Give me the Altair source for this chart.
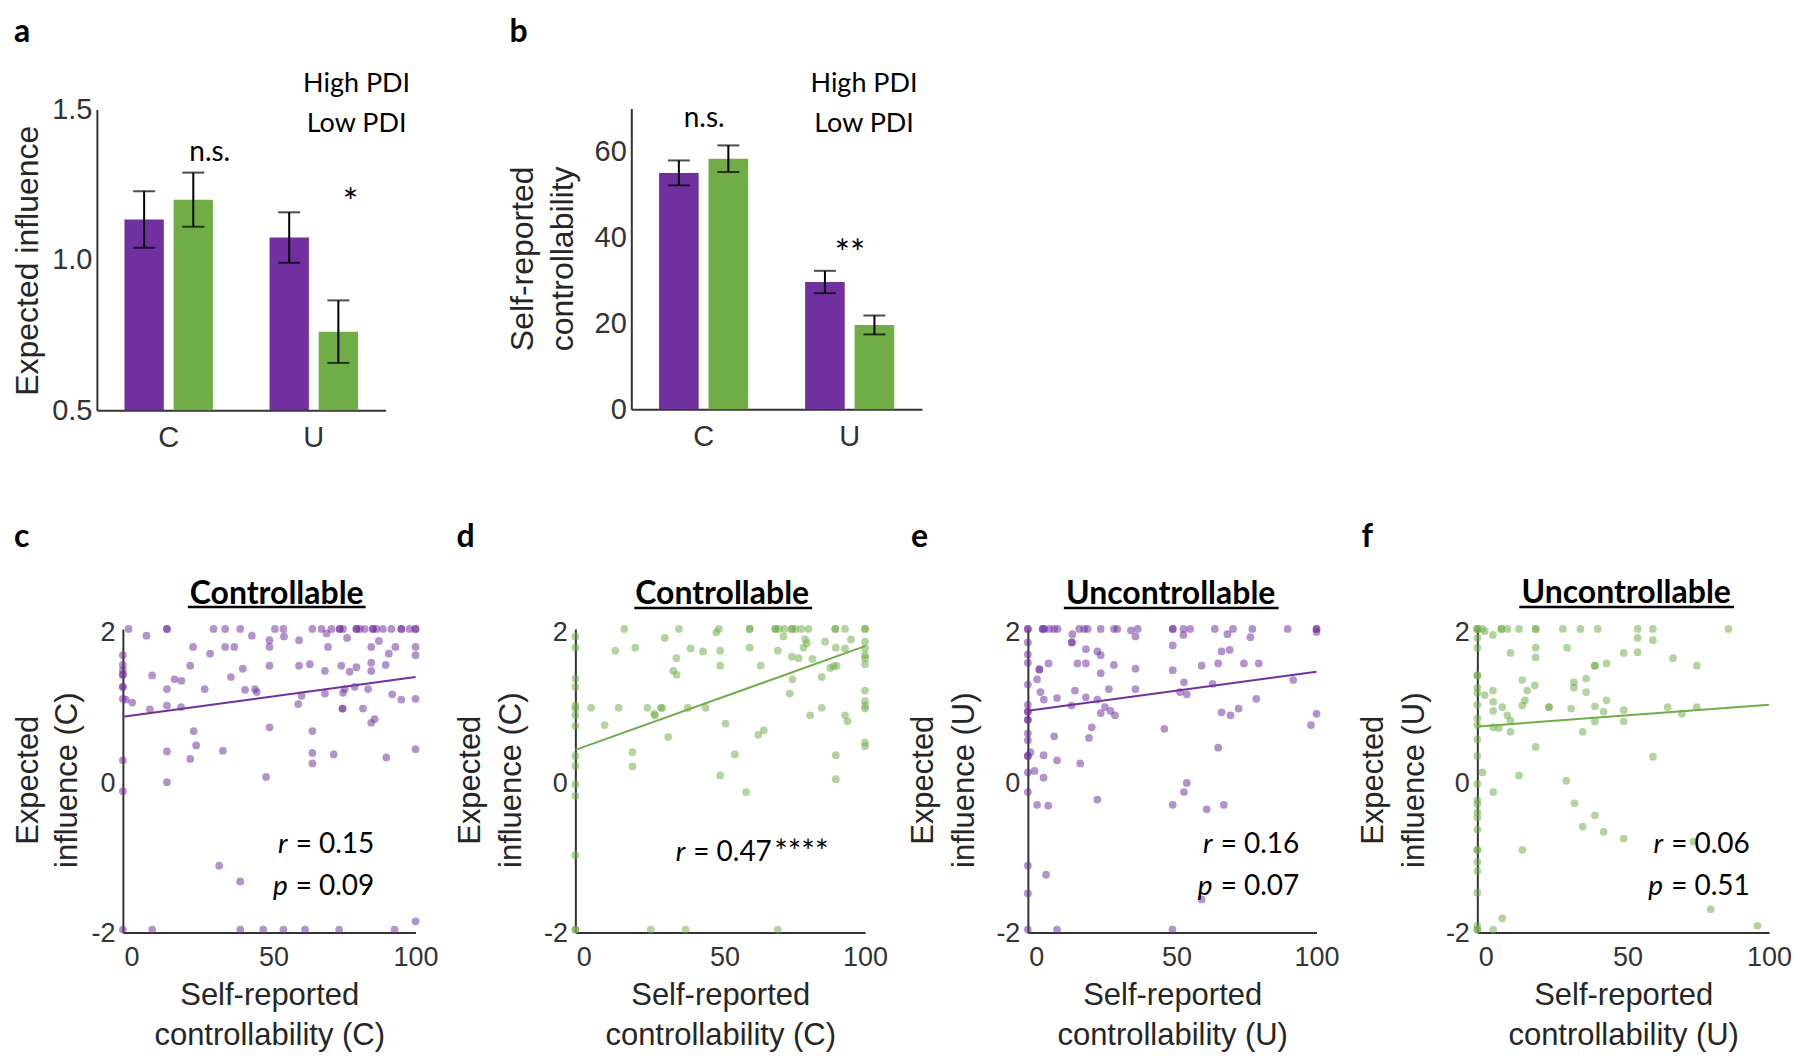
import altair as alt
import pandas as pd

PURPLE = "#7030A0"
GREEN = "#70AD47"
AXIS_FONT = "Liberation Sans"
TEXT_FONT = "Lato"
W, H = 1784, 1045

# ---------------- panels a / b ----------------
conditions = ["C", "C", "U", "U"]
pdi_group = ["High PDI", "Low PDI", "High PDI", "Low PDI"]
influence_mean = [1.134, 1.200, 1.074, 0.761]
influence_sem = [0.094, 0.090, 0.084, 0.104]
control_mean = [55.0, 58.3, 29.6, 19.6]
control_sem = [2.9, 3.1, 2.6, 2.2]

# ---------------- panels c-f (self-reported controllability, expected influence) -------------
c_points = [
    (-1, 2.0), (12.5, 2.0), (12.5, 2.0), (28.9, 2.0), (33.0, 2.0), (38.3, 2.0), (50.5, 2.0), (53.5, 2.0),
    (63.7, 2.0), (66.9, 2.0), (70.4, 2.0), (73.3, 2.0), (73.3, 2.0), (74.5, 2.0), (79.2, 2.0), (79.2, 2.0),
    (80.3, 2.0), (82.1, 2.0), (85.0, 2.0), (85.0, 2.0), (86.2, 2.0), (88.5, 2.0), (91.5, 2.0), (95.0, 2.0),
    (95.0, 2.0), (97.9, 2.0), (100, 2.0), (100, 2.0),
    (5.3, 1.91), (42.4, 1.91), (48.6, 1.85), (53.7, 1.90), (59.0, 1.85), (68.7, 1.94), (75.9, 1.88), (87.1, 1.84),
    (21.7, 1.76), (33.0, 1.76), (36.2, 1.76), (48.6, 1.76), (69.2, 1.76), (84.4, 1.76), (92.9, 1.76), (100, 1.76),
    (-3, 1.65), (27.7, 1.67), (90.6, 1.67), (100, 1.65),
    (-3, 1.52), (20.7, 1.51), (39.2, 1.47), (48.6, 1.51), (59.0, 1.51), (62.8, 1.53), (73.9, 1.51), (79.2, 1.49),
    (84.4, 1.55), (89.5, 1.52), (84.4, 1.44), (76.8, 1.43),
    (-3, 1.39), (-3, 1.39), (7.3, 1.38), (35.0, 1.36), (68.1, 1.44), (15.2, 1.33), (17.6, 1.31),
    (-3, 1.23), (-3, 1.23), (12.5, 1.20), (25.8, 1.20), (40.0, 1.19), (43.5, 1.20), (44.1, 1.16), (59.9, 1.11),
    (68.1, 1.14), (74.5, 1.15), (75.1, 1.20), (78.6, 1.23), (83.3, 1.20), (91.8, 1.13),
    (-2, 1.06), (0.3, 1.02), (6.5, 0.93), (12.5, 0.98), (17.5, 0.96), (58.7, 1.00), (74.3, 0.94), (74.3, 0.94),
    (81.5, 0.94), (95.0, 1.06), (100, 1.07),
    (85.6, 0.80), (84.4, 0.75), (48.6, 0.69), (21.9, 0.64), (63.7, 0.64),
    (22.8, 0.45), (100, 0.40), (12.5, 0.37), (32.2, 0.38), (63.7, 0.35), (71.2, 0.33), (89.7, 0.29), (20.7, 0.27),
    (-3, 0.25), (63.7, 0.21),
    (47.4, 0.03), (12.5, -0.04), (-3, -0.16),
    (30.9, -1.15), (38.3, -1.36),
    (100, -1.89), (-3, -2.0), (7.3, -2.0), (38.3, -2.0), (46.4, -2.0), (53.5, -2.0), (61.1, -2.0), (73.1, -2.0),
    (92.6, -2.0), (-3, 1.07), (-3, 1.45),
]

d_points = [
    (14.4, 2.0), (33.8, 2.0), (48.0, 2.0), (59.0, 2.0), (59.0, 2.0), (68.1, 2.0), (68.1, 2.0), (69.3, 2.0),
    (71.4, 2.0), (74.0, 2.0), (74.0, 2.0), (75.2, 2.0), (77.3, 2.0), (79.9, 2.0), (89.4, 2.0), (89.4, 2.0),
    (92.9, 2.0), (100, 2.0), (100, 2.0),
    (47.1, 1.955), (-3, 1.90), (28.8, 1.88), (71.0, 1.90), (78.7, 1.86), (85.8, 1.83), (95.0, 1.86), (79.3, 1.81),
    (100, 1.83),
    (-3, 1.75), (11.2, 1.71), (18.3, 1.75), (38.0, 1.74), (42.4, 1.70), (48.5, 1.71), (59.0, 1.75), (69.0, 1.71),
    (78.1, 1.75), (89.6, 1.75), (92.9, 1.74), (100, 1.74), (100, 1.65),
    (74.0, 1.63), (76.4, 1.61), (81.3, 1.60), (32.9, 1.61), (48.5, 1.51), (62.9, 1.51), (88.8, 1.50), (87.6, 1.48),
    (89.9, 1.51), (100, 1.53), (100, 1.61),
    (31.8, 1.44), (33.0, 1.39), (84.6, 1.36), (74.2, 1.33), (-3, 1.34), (-3, 1.23), (73.2, 1.14), (100, 1.18),
    (100, 1.04), (100, 0.98), (-3, 0.98), (-3, 0.94), (2.6, 0.95), (12.4, 0.95), (22.6, 0.95), (27.4, 0.95),
    (27.9, 0.95), (37.0, 0.95), (43.3, 0.95), (84.6, 0.95), (100, 0.94),
    (-3, 0.85), (25.0, 0.87), (25.3, 0.85), (80.5, 0.85), (92.9, 0.85), (93.8, 0.77), (7.4, 0.72), (50.4, 0.74),
    (-3, 0.71),
    (64.0, 0.65), (62.0, 0.59), (30.0, 0.56),
    (100, 0.49), (100, 0.44), (17.3, 0.36), (53.7, 0.33), (89.6, 0.32), (-3, 0.31),
    (17.3, 0.17), (48.5, 0.05), (89.6, 0.0), (-3, -0.07), (57.7, -0.17), (-3, -0.22), (-3, 0.18),
    (-3, -1.01),
    (-3, -2.0), (-3, -2.0), (23.8, -2.0), (36.2, -2.0), (69.0, -2.0),
]

e_points = [
    (-3, 2.0), (-3, 2.0), (2.3, 2.0), (2.3, 2.0), (2.9, 2.0), (4.7, 2.0), (6.4, 2.0), (7.6, 2.0), (15.3, 2.0),
    (17.1, 2.0), (18.3, 2.0), (23.0, 2.0), (27.7, 2.0), (28.9, 2.0), (36.2, 2.0), (48.7, 2.0), (48.7, 2.0),
    (52.5, 2.0), (54.9, 2.0), (63.7, 2.0), (70.2, 2.0), (77.1, 2.0), (89.7, 2.0), (100, 2.0), (100, 2.0),
    (33.8, 1.98), (100, 1.96), (12.9, 1.93), (35.4, 1.90), (52.5, 1.92), (68.2, 1.93), (76.4, 1.89), (12.7, 1.82),
    (12.7, 1.82), (-3, 1.82),
    (48.7, 1.78), (17.7, 1.73), (21.8, 1.70), (23.0, 1.65), (66.1, 1.70), (69.0, 1.72), (-3, 1.66), (-3, 1.55),
    (1.1, 1.46), (1.1, 1.46), (4.4, 1.54), (14.7, 1.54), (17.7, 1.54), (27.7, 1.52), (35.4, 1.47), (48.7, 1.45),
    (59.0, 1.51), (64.9, 1.54), (74.1, 1.54), (79.4, 1.54), (23.0, 1.41),
    (0.3, 1.33), (-3, 1.26), (52.7, 1.29), (62.9, 1.27), (91.7, 1.32), (13.8, 1.18), (25.9, 1.20), (35.4, 1.20),
    (1.5, 1.16), (51.3, 1.16), (53.7, 1.13),
    (2.7, 1.06), (7.4, 1.08), (17.7, 1.09), (21.8, 1.06), (12.6, 0.98), (78.5, 1.07), (24.5, 0.96), (-3, 0.99),
    (26.5, 0.91), (72.2, 0.94),
    (-3, 0.90), (-3, 0.90), (23.0, 0.88), (28.1, 0.85), (66.1, 0.89), (69.3, 0.85), (100, 0.87),
    (-3, 0.79), (-3, 0.79), (98.0, 0.72), (19.8, 0.69), (45.7, 0.67),
    (-3, 0.61), (6.4, 0.57), (18.8, 0.55), (-3, 0.52), (64.9, 0.42),
    (-3, 0.31), (-3, 0.31), (2.6, 0.32), (-2.1, 0.36), (7.4, 0.25), (15.7, 0.21),
    (-0.6, 0.11), (-3, 0.09), (2.6, 0.02), (53.7, -0.05), (52.7, -0.17), (-3, -0.17),
    (21.8, -0.27), (0.3, -0.34), (4.3, -0.35), (48.7, -0.34), (60.8, -0.40), (66.9, -0.34),
    (-3, -1.15), (3.5, -1.27), (-3, -1.52), (59.0, -1.60),
    (-3, -2.0), (7.4, -2.0), (48.6, -2.0),
]

f_points = [
    (-3, 2.0), (-3, 2.0), (-3, 2.0), (-1.2, 2.0), (5.5, 2.0), (5.5, 2.0), (7.6, 2.0), (11.7, 2.0), (17.6, 2.0),
    (17.6, 2.0), (27.2, 2.0), (33.4, 2.0), (39.5, 2.0), (53.6, 2.0), (59.0, 2.0), (85.7, 2.0),
    (-0.4, 1.97), (2.5, 1.92), (53.6, 1.88), (59.0, 1.85), (-3, 1.88), (-3, 1.75),
    (17.6, 1.75), (28.7, 1.75), (8.7, 1.68), (17.6, 1.62), (48.7, 1.68), (53.6, 1.69), (66.1, 1.61),
    (38.5, 1.51), (38.5, 1.51), (42.6, 1.54), (74.5, 1.51),
    (-3, 1.38), (-3, 1.38), (12.9, 1.32), (17.3, 1.25), (31.1, 1.29), (35.4, 1.34), (31.1, 1.22), (35.4, 1.16),
    (14.6, 1.18), (2.5, 1.18), (-3, 1.22), (-3, 1.15), (-0.4, 1.12),
    (13.8, 1.05), (12.9, 0.98), (2.6, 1.03), (5.8, 0.96), (22.3, 0.96), (22.3, 0.96), (30.1, 0.94), (38.5, 0.97),
    (42.6, 1.05), (48.7, 0.92), (41.6, 0.90), (64.2, 0.96), (74.5, 0.96), (2.6, 0.91), (-3, 0.99),
    (7.6, 0.85), (8.7, 0.78), (69.2, 0.87), (38.5, 0.77), (48.7, 0.77), (2.6, 0.69), (4.6, 0.68), (8.7, 0.63),
    (34.2, 0.63), (-3, 0.81), (-3, 0.72),
    (17.6, 0.43), (59.0, 0.30), (-3, 0.53), (-3, 0.31),
    (-1.2, 0.09), (11.7, 0.05), (28.4, -0.02), (-3, -0.06),
    (2.6, -0.17), (31.3, -0.32), (-3, -0.28), (-3, -0.33),
    (38.5, -0.48), (34.2, -0.63), (41.6, -0.70), (48.7, -0.79), (73.3, -0.83), (-3, -0.44), (-3, -0.51),
    (-3, -0.94), (-3, -0.94), (12.9, -0.94),
    (-3, -0.67), (-3, -1.10), (-3, -1.22), (-3, -1.51),
    (79.4, -1.73), (5.8, -1.85), (95.9, -1.95), (-3, -2.0), (-3, -2.0), (-3, -1.95), (2.6, -2.0),
]

# least-squares lines as drawn (end points)
fit_x = [-3, 100]
c_fit_y = [0.83, 1.36]
d_fit_y = [0.39, 1.77]
e_fit_y = [0.91, 1.43]
f_fit_y = [0.70, 0.99]

ONE = pd.DataFrame({"k": [0]})


def text(s, x, y, size=28, weight="normal", style="normal", align="left",
         baseline="alphabetic", font=TEXT_FONT):
    return alt.Chart(ONE).mark_text(
        text=s, fontSize=size, fontWeight=weight, fontStyle=style, align=align,
        baseline=baseline, font=font, color="black"
    ).encode(x=alt.value(x), y=alt.value(y))


def underline(x1, x2, y):
    return alt.Chart(ONE).mark_rule(color="black", strokeWidth=2.5).encode(
        x=alt.value(x1), x2=alt.value(x2), y=alt.value(y))


def axis_common(label_size, label_pad, title_size, line_h):
    return dict(
        labelFont=AXIS_FONT, labelFontSize=label_size, labelColor="#333333", labelPadding=label_pad,
        labelFlush=False, labelOverlap=False,
        titleFont=AXIS_FONT, titleFontSize=title_size, titleFontWeight="normal", titleColor="#262626",
        titleLineHeight=line_h, ticks=False, tickSize=0, grid=False,
        domainColor="#333333", domainWidth=2,
    )


def left_axis(pos, title, title_x, title_y, line_h, label_size, label_pad, title_size, **kw):
    return alt.Axis(orient="left", offset=-pos, title=title, titleX=title_x, titleY=title_y,
                    titleBaseline="bottom", titleAlign="center",
                    **axis_common(label_size, label_pad, title_size, line_h), **kw)


def bottom_axis(pos, title, title_x, title_y, line_h, label_size, label_pad, **kw):
    if title is None:
        return alt.Axis(orient="bottom", offset=pos - H, title=None, labelAngle=0,
                        **axis_common(label_size, label_pad, 31, line_h), **kw)
    return alt.Axis(orient="bottom", offset=pos - H, title=title, titleX=title_x, titleY=title_y,
                    titleBaseline="top", titleAlign="center", labelAngle=0,
                    **axis_common(label_size, label_pad, 31, line_h), **kw)


def bar_panel(means, sems, x_range, y_dom, y_range, yaxis, xaxis):
    df = pd.DataFrame({"cond": conditions, "pdi": pdi_group, "mean": means, "sem": sems})
    base = alt.Chart(df).transform_calculate(lo="datum.mean - datum.sem", hi="datum.mean + datum.sem")
    X = alt.X("cond:N", sort=["C", "U"],
              scale=alt.Scale(range=x_range, paddingInner=0.39, paddingOuter=0.19), axis=xaxis)
    XO = alt.XOffset("pdi:N", sort=["High PDI", "Low PDI"],
                     scale=alt.Scale(paddingInner=0.2, paddingOuter=0))
    ys = alt.Scale(domain=y_dom, range=y_range, nice=False, zero=False)
    bars = base.mark_bar().encode(
        x=X, xOffset=XO, y=alt.Y("mean:Q", scale=ys, axis=yaxis), y2=alt.datum(y_dom[0]),
        color=alt.Color("pdi:N", scale=alt.Scale(domain=["High PDI", "Low PDI"], range=[PURPLE, GREEN]),
                        legend=None))
    err = base.mark_rule(color="black", strokeWidth=2).encode(
        x=X, xOffset=XO, y=alt.Y("lo:Q", scale=ys, axis=yaxis), y2="hi:Q")
    cap_lo = base.mark_tick(color="black", thickness=2, size=22, orient="horizontal").encode(
        x=X, xOffset=XO, y=alt.Y("lo:Q", scale=ys, axis=yaxis))
    cap_hi = base.mark_tick(color="black", thickness=2, size=22, orient="horizontal").encode(
        x=X, xOffset=XO, y=alt.Y("hi:Q", scale=ys, axis=yaxis))
    return [bars, err, cap_lo, cap_hi]


def scatter_panel(points, fit_y, color, x_range, y_range, xaxis, yaxis):
    df = pd.DataFrame(points, columns=["ctrl", "infl"])
    X = alt.X("ctrl:Q", scale=alt.Scale(domain=[-3, 100], range=x_range, nice=False, zero=False), axis=xaxis)
    Y = alt.Y("infl:Q", scale=alt.Scale(domain=[-2.04, 2], range=y_range, nice=False, zero=False), axis=yaxis)
    pts = alt.Chart(df).mark_circle(size=60, opacity=0.52, color=color).encode(x=X, y=Y)
    fit = alt.Chart(pd.DataFrame({"ctrl": fit_x, "infl": fit_y})).mark_line(
        color=color, strokeWidth=2).encode(x=X, y=Y)
    return [pts, fit]


LETTER = dict(size=32, weight="bold")

# ---------- panel a ----------
ya = left_axis(89, "Expected influence", -52, 252, 40, 29, 5, 32, values=[0.5, 1.0, 1.5], format=".1f")
xa = bottom_axis(402, None, None, None, 34, 29, 13)
panel_a = alt.layer(*bar_panel(influence_mean, influence_sem, [89, 378], [0.5, 1.5], [402, 101], ya, xa),
                    text("a", 6, 33, **LETTER),
                    text("High PDI", 349, 84, size=27, align="center"),
                    text("Low PDI", 349, 124, size=27, align="center"),
                    text("n.s.", 202, 153, size=28, align="center"),
                    text("*", 343, 207, size=37, align="center"))

# ---------- panel b ----------
yb = left_axis(624, ["Self-reported", "controllability"], -92, 250, 40, 29, 5, 32, values=[0, 20, 40, 60])
xb = bottom_axis(401, None, None, None, 34, 29, 13)
panel_b = alt.layer(*bar_panel(control_mean, control_sem, [624, 915], [0, 70], [401, 100], yb, xb),
                    text("b", 502, 33, **LETTER),
                    text("High PDI", 857, 84, size=27, align="center"),
                    text("Low PDI", 857, 124, size=27, align="center"),
                    text("n.s.", 697, 119, size=28, align="center"),
                    text("**", 843, 258, size=36, align="center"))

# ---------- scatter panels ----------
lab_expr = "'' + datum.value"
Y_RANGE = [925, 621]


def sc_axes(xpos, xr, cond, tx, lh=41):
    yax = left_axis(xpos, ["Expected", "influence (%s)" % cond], tx, 772, lh, 27, 8, 31,
                    values=[-2, 0, 2], labelExpr=lab_expr, labelOffset=4)
    xax = bottom_axis(Y_RANGE[0], ["Self-reported", "controllability (%s)" % cond],
                      (xr[0] + xr[1]) / 2, 48, 40, 27, 12, values=[0, 50, 100], labelExpr=lab_expr)
    return xax, yax


xc, yc = sc_axes(115, [115, 408], "C", -78, lh=39)
panel_c = alt.layer(*scatter_panel(c_points, c_fit_y, PURPLE, [115, 408], Y_RANGE, xc, yc),
                    text("c", 6, 539, **LETTER),
                    text("Controllable", 269, 596, size=32, weight="bold", align="center"),
                    underline(180, 358, 599),
                    text("r", 280, 845, size=28, style="italic", align="right"),
                    text("= 0.15", 288, 845, size=28),
                    text("p", 280, 887, size=28, style="italic", align="right"),
                    text("= 0.09", 288, 887, size=28))

xd, yd = sc_axes(568, [568, 858], "C", -89)
panel_d = alt.layer(*scatter_panel(d_points, d_fit_y, GREEN, [568, 858], Y_RANGE, xd, yd),
                    text("d", 449, 539, **LETTER),
                    text("Controllable", 715, 596, size=32, weight="bold", align="center"),
                    underline(627, 805, 600),
                    text("r", 678, 853, size=28, style="italic", align="right"),
                    text("= 0.47", 686, 853, size=28),
                    text("****", 767, 855, size=32))

xe, ye = sc_axes(1021, [1021, 1310], "U", -88)
panel_e = alt.layer(*scatter_panel(e_points, e_fit_y, PURPLE, [1021, 1310], Y_RANGE, xe, ye),
                    text("e", 904, 539, **LETTER),
                    text("Uncontrollable", 1164, 596, size=32, weight="bold", align="center"),
                    underline(1057, 1272, 600),
                    text("r", 1206, 845, size=28, style="italic", align="right"),
                    text("= 0.16", 1214, 845, size=28),
                    text("p", 1206, 887, size=28, style="italic", align="right"),
                    text("= 0.07", 1214, 887, size=28))

xf, yf = sc_axes(1471, [1471, 1763], "U", -88)
panel_f = alt.layer(*scatter_panel(f_points, f_fit_y, GREEN, [1471, 1763], Y_RANGE, xf, yf),
                    text("f", 1355, 539, **LETTER),
                    text("Uncontrollable", 1620, 595, size=32, weight="bold", align="center"),
                    underline(1513, 1728, 599),
                    text("r", 1657, 845, size=28, style="italic", align="right"),
                    text("= 0.06", 1665, 845, size=28),
                    text("p", 1657, 887, size=28, style="italic", align="right"),
                    text("= 0.51", 1665, 887, size=28))

chart = alt.layer(panel_a, panel_b, panel_c, panel_d, panel_e, panel_f).resolve_scale(
    x="independent", y="independent", xOffset="independent"
).resolve_axis(
    x="independent", y="independent"
).properties(
    width=W, height=H, padding=0
).configure_view(strokeWidth=0)

chart.save("out.html", embed_options={"renderer": "svg", "actions": False})
